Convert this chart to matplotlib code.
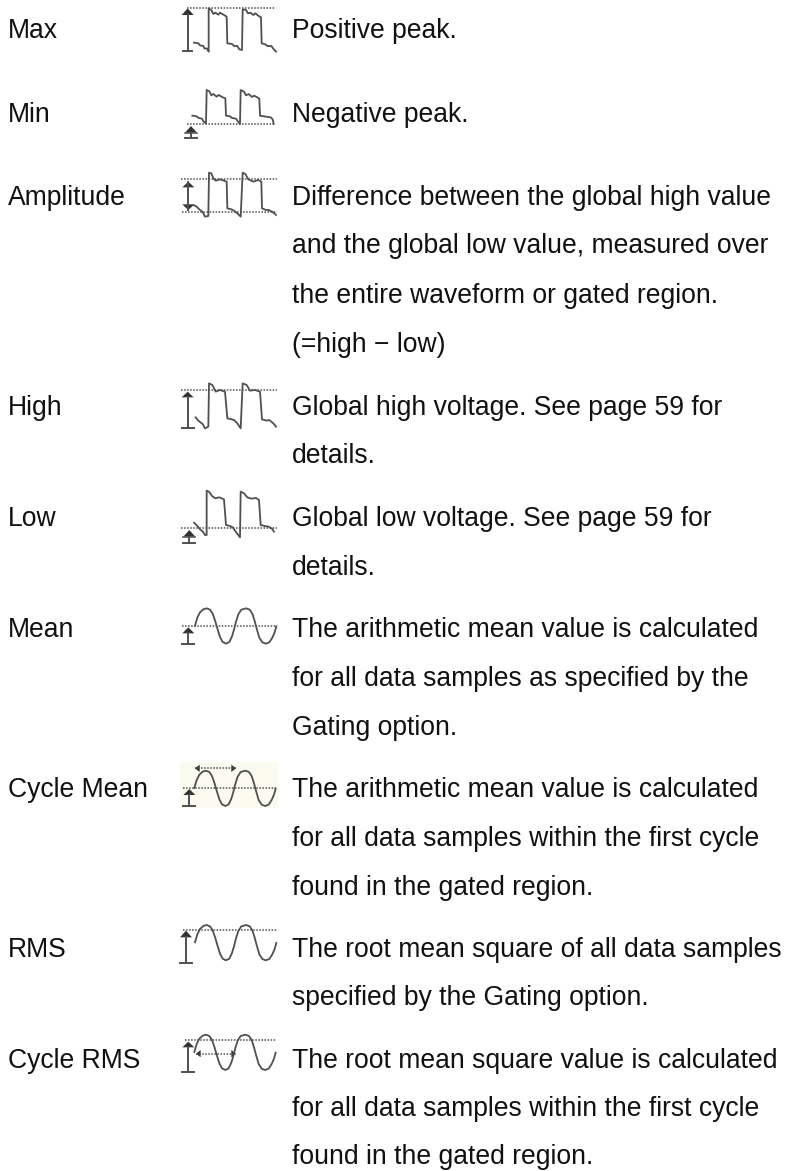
"""Oscilloscope measurement table: labels, waveform icons, descriptions."""
import matplotlib; matplotlib.use("Agg")
import matplotlib.pyplot as plt

# ── Text ─────────────────────────────────────────────────────────────────────
labels = ["Max", "Min", "Amplitude", "High", "Low", "Mean", "Cycle Mean", "RMS", "Cycle RMS"]
label_y = [38, 122, 205, 415, 526, 637, 797, 957, 1068]
desc_lines = [
    "Positive peak.", "Negative peak.",
    "Difference between the global high value",
    "and the global low value, measured over",
    "the entire waveform or gated region.",
    "(=high \u2212 low)",
    "Global high voltage. See page 59 for", "details.",
    "Global low voltage. See page 59 for", "details.",
    "The arithmetic mean value is calculated",
    "for all data samples as specified by the",
    "Gating option.",
    "The arithmetic mean value is calculated",
    "for all data samples within the first cycle",
    "found in the gated region.",
    "The root mean square of all data samples",
    "specified by the Gating option.",
    "The root mean square value is calculated",
    "for all data samples within the first cycle",
    "found in the gated region.",
]
desc_y = [38, 122, 205, 253, 303, 352, 415, 463, 526, 575, 637, 686, 735,
          797, 846, 895, 957, 1005, 1068, 1116, 1164]

# ── Icon traces, read at 3x from crops ───────────────────────────────────────
max_x = [132, 145, 150, 160, 163, 172, 176, 176, 184, 190, 196, 205, 210, 222, 230, 232, 246, 252, 262, 268, 276, 278,
         288, 294, 302, 310, 316, 326, 333, 335, 346, 352, 364, 370, 378]
max_y = [128, 130, 136, 138, 145, 146, 155, 25, 30, 42, 38, 44, 38, 45, 50, 130, 132, 138, 138, 148, 150, 28,
         30, 40, 38, 45, 40, 48, 52, 130, 133, 138, 138, 146, 155]
min_x = [127, 140, 146, 156, 160, 168, 170, 178, 184, 190, 200, 206, 218, 226, 228, 240, 246, 258, 264, 270, 272,
         282, 288, 296, 306, 312, 322, 328, 330, 342, 348, 362, 368, 371]
min_y = [347, 349, 354, 356, 364, 370, 270, 274, 286, 282, 290, 285, 292, 295, 347, 349, 354, 356, 365, 372, 270,
         275, 286, 282, 291, 287, 292, 296, 347, 349, 350, 352, 358, 372]
amp_x = [130, 140, 150, 158, 165, 175, 177, 184, 190, 197, 210, 222, 230, 232, 244, 252, 262, 272, 278, 286, 295, 310, 325,
         334, 336, 348, 356, 368, 378]
amp_y = [615, 620, 630, 636, 650, 648, 518, 520, 535, 542, 538, 542, 545, 625, 628, 632, 640, 650, 518, 522, 538, 545, 540,
         545, 625, 630, 630, 636, 645]
high_x = [137, 145, 150, 158, 165, 175, 177, 187, 197, 210, 225, 232, 245, 252, 262, 272, 278, 290, 300, 315, 330, 336, 350,
          358, 370, 378]
high_y = [112, 122, 126, 132, 145, 140, 10, 15, 35, 30, 35, 115, 118, 120, 130, 145, 10, 15, 32, 30, 35, 118, 122,
          120, 130, 140]
low_x = [132, 142, 150, 158, 165, 170, 170, 178, 186, 196, 208, 222, 228, 240, 248, 258, 270, 272, 282, 292, 304, 318, 327,
         332, 344, 356, 366, 372]
low_y = [428, 438, 448, 454, 465, 465, 332, 336, 348, 355, 352, 358, 435, 438, 442, 456, 472, 335, 340, 352, 356, 354, 360,
         435, 438, 440, 446, 455]
sine_x = [133, 140, 148, 158, 168, 178, 186, 193, 200, 208, 216, 226, 236, 244, 250, 256, 263, 272, 286,
          297, 305, 312, 319, 326, 335, 345, 356, 365, 372, 377]
sine_y = [264, 240, 224, 215, 212, 216, 228, 248, 272, 298, 313, 318, 313, 296, 276, 252, 230, 216, 212,
          216, 228, 250, 276, 300, 314, 318, 314, 300, 284, 266]

INK = "#505050"
fig = plt.figure(figsize=(7.94, 11.71), dpi=100)
ax = fig.add_axes([0, 0, 1, 1])
ax.set_xlim(0, 794); ax.set_ylim(1171, 0); ax.axis("off")

def trace(ox, oy, xs, ys, dx=0, dy=0):
    ax.plot([ox + (x + dx) / 3 for x in xs], [oy + (y + dy) / 3 for y in ys],
            color=INK, lw=1.3, solid_joinstyle="round")

def dots(ox, oy, x0, x1, y):
    ax.plot([ox + x0 / 3, ox + x1 / 3], [oy + y / 3] * 2, color=INK, lw=1.1, ls=(0, (1, 1)))

def tri(ox, oy, x, y0, y1, w=36):
    ax.fill([ox + (x - w / 2) / 3, ox + (x + w / 2) / 3, ox + x / 3],
            [oy + y1 / 3, oy + y1 / 3, oy + y0 / 3], color="#333333", lw=0)

def harrow(ox, oy, x0, x1, y):
    ax.plot([ox + x0 / 3, ox + x1 / 3], [oy + y / 3] * 2, color=INK, lw=1.1, ls=(0, (1, 1)))
    for tip, back in ((x0, x0 + 14), (x1, x1 - 14)):
        ax.fill([ox + tip / 3, ox + back / 3, ox + back / 3],
                [oy + y / 3, oy + (y - 11) / 3, oy + (y + 11) / 3], color="#333333", lw=0)

def stem(ox, oy, x, y0, y1, w=36):
    ax.plot([ox + x / 3] * 2, [oy + y0 / 3, oy + y1 / 3], color=INK, lw=1.4)
    ax.plot([ox + (x - w / 2) / 3, ox + (x + w / 2) / 3], [oy + y1 / 3] * 2, color=INK, lw=1.4)

# Max
trace(150, 0, max_x, max_y); dots(150, 0, 110, 375, 23)
tri(150, 0, 113, 25, 45); stem(150, 0, 113, 45, 152, 28)
# Min
trace(150, 0, min_x, min_y); dots(150, 0, 110, 372, 373)
tri(150, 0, 123, 378, 398); stem(150, 0, 123, 398, 415)
ax.plot([150 + 105 / 3, 150 + 141 / 3], [398 / 3] * 2, color=INK, lw=1.1)
# Amplitude
trace(150, 0, amp_x, amp_y); dots(150, 0, 92, 380, 538); dots(150, 0, 95, 380, 635)
ax.plot([150 + 115 / 3] * 2, [545 / 3, 630 / 3], color=INK, lw=1.4)
tri(150, 0, 115, 545, 562); tri(150, 0, 115, 630, 613)
# High
trace(150, 380, high_x, high_y); dots(150, 380, 92, 380, 30)
tri(150, 380, 113, 35, 52); stem(150, 380, 113, 52, 145)
# Low
trace(150, 380, low_x, low_y); dots(150, 380, 92, 380, 445)
tri(150, 380, 118, 450, 470); stem(150, 380, 118, 470, 488)
ax.plot([150 + 100 / 3, 150 + 136 / 3], [380 + 470 / 3] * 2, color=INK, lw=1.1)
# Mean
trace(150, 590, sine_x, sine_y, dx=2, dy=-157); dots(150, 590, 95, 382, 107)
tri(150, 590, 115, 112, 130); stem(150, 590, 115, 130, 163)
# Cycle Mean
ax.fill([180, 278, 278, 180], [762, 762, 808, 808], color="#fbfbf0", lw=0)
trace(150, 700, sine_x, sine_y); dots(150, 700, 100, 378, 263)
harrow(150, 700, 135, 258, 205)
tri(150, 700, 118, 267, 285); stem(150, 700, 118, 285, 318)
# RMS
trace(150, 910, sine_x, sine_y, dy=-167, dx=2); dots(150, 910, 100, 382, 60)
tri(150, 910, 108, 62, 82); stem(150, 910, 108, 82, 158)
# Cycle RMS
trace(150, 960, sine_x, sine_y, dy=12); dots(150, 960, 105, 378, 240)
harrow(150, 960, 138, 258, 281)
tri(150, 960, 115, 245, 262); stem(150, 960, 115, 262, 335)

# ── Text ─────────────────────────────────────────────────────────────────────
for s, y in zip(labels, label_y):
    ax.text(8, y, s, fontsize=19.1, family="Liberation Sans", va="baseline", ha="left", color="#111111")
for s, y in zip(desc_lines, desc_y):
    ax.text(292, y, s, fontsize=19.1, family="Liberation Sans", va="baseline", ha="left", color="#111111")

plt.savefig("out.png", dpi=100)
